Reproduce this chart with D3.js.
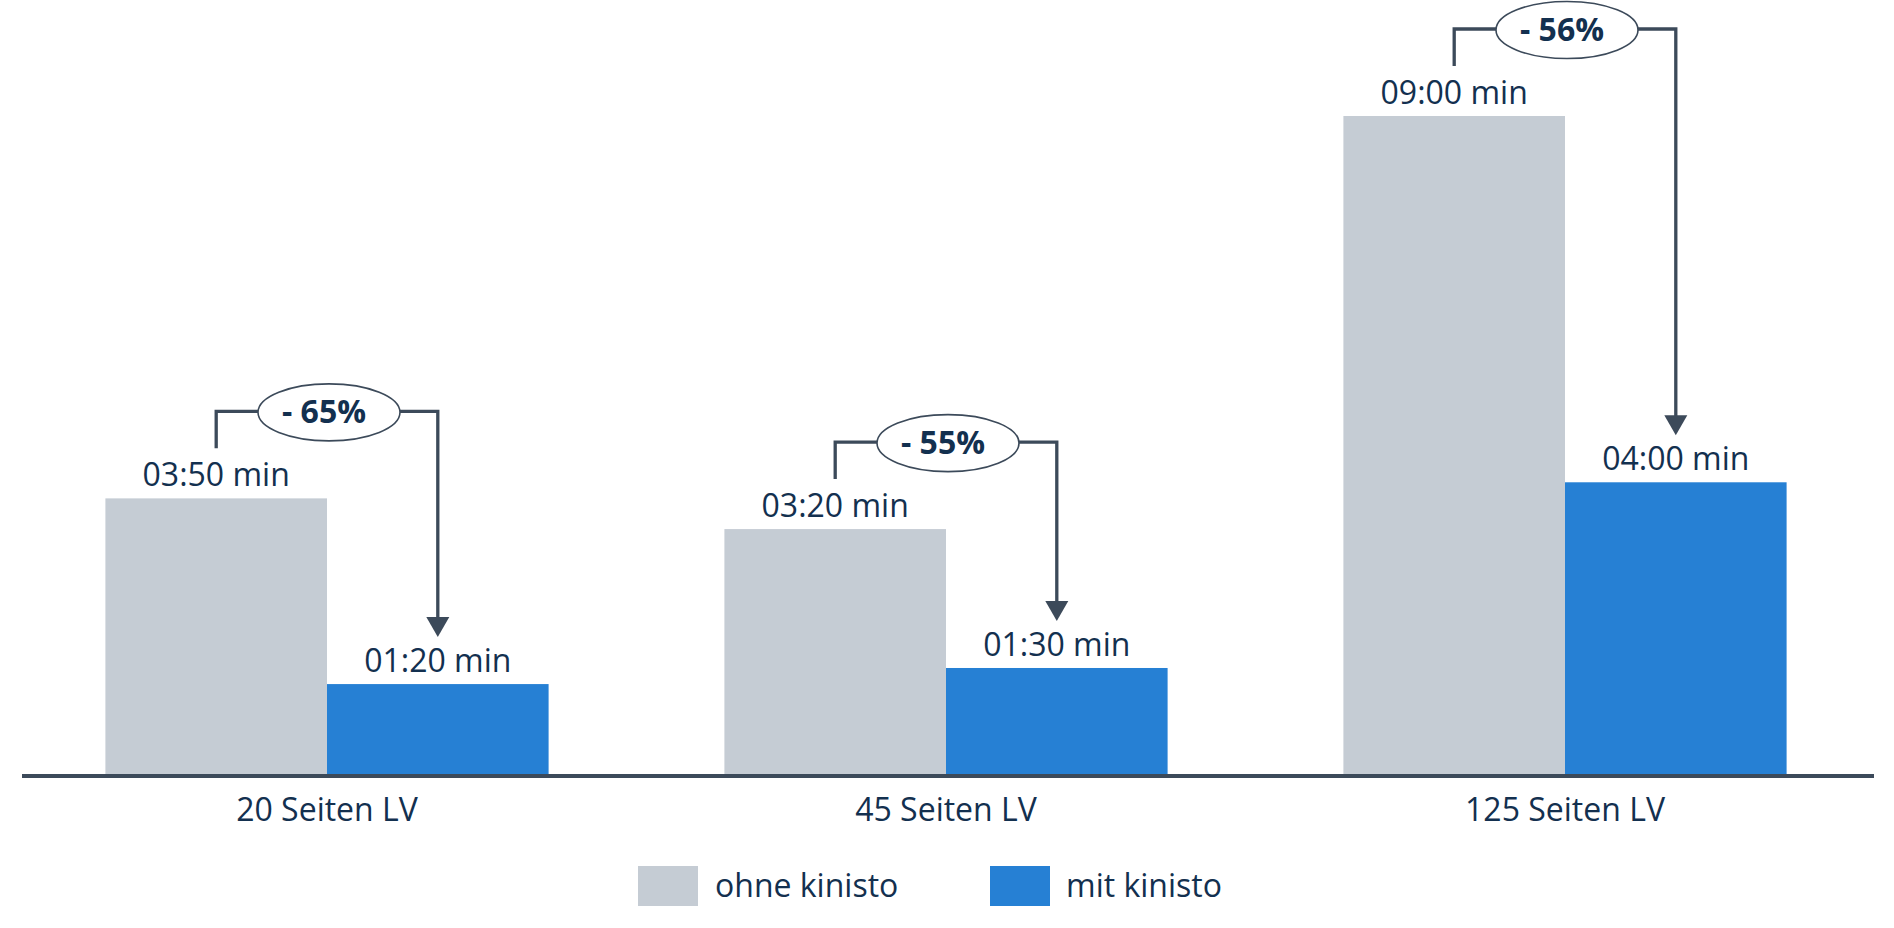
<!DOCTYPE html>
<html>
<head>
<meta charset="utf-8">
<script src="https://cdn.jsdelivr.net/npm/d3@7"></script>
<style>
  html, body { margin: 0; padding: 0; background: #ffffff; }
  svg { display: block; }
  text { font-family: "Open Sans", "Noto Sans", sans-serif; }
</style>
</head>
<body>
<svg id="chart" width="1894" height="928"></svg>
<script>
// ---- data ----
const categories = ["20 Seiten LV", "45 Seiten LV", "125 Seiten LV"];
const seriesNames = ["ohne kinisto", "mit kinisto"];
// minutes
const ohneValues = [3.77, 3.35, 9.0];
const mitValues = [1.23, 1.45, 3.99];
const ohneLabels = ["03:50 min", "03:20 min", "09:00 min"];
const mitLabels = ["01:20 min", "01:30 min", "04:00 min"];
const reductionLabels = ["- 65%", "- 55%", "- 56%"];

// ---- styles ----
const colors = { "ohne kinisto": "#c5ccd4", "mit kinisto": "#2680d4" };
const textColor = "#13304f";
const lineColor = "#3c4a5a";

const svg = d3.select("#chart");
const baseY = 774;

const x0 = d3.scaleBand()
  .domain(categories)
  .range([17.5, 1874.5])
  .paddingInner(0.284)
  .paddingOuter(0.142);

const x1 = d3.scaleBand()
  .domain(seriesNames)
  .range([0, x0.bandwidth()])
  .padding(0);

const y = d3.scaleLinear()
  .domain([0, 9])
  .range([baseY, 116]);

const rows = categories.map((c, i) => ({
  cat: c,
  bars: [
    { key: "ohne kinisto", value: ohneValues[i], label: ohneLabels[i] },
    { key: "mit kinisto", value: mitValues[i], label: mitLabels[i] }
  ],
  reduction: reductionLabels[i]
}));

// ---- bars ----
const groups = svg.append("g").selectAll("g.grp")
  .data(rows).join("g")
  .attr("class", "grp")
  .attr("transform", d => `translate(${x0(d.cat)},0)`);

groups.selectAll("rect")
  .data(d => d.bars).join("rect")
  .attr("x", d => x1(d.key))
  .attr("y", d => y(d.value))
  .attr("width", x1.bandwidth())
  .attr("height", d => baseY - y(d.value))
  .attr("fill", d => colors[d.key]);

groups.selectAll("text.val")
  .data(d => d.bars).join("text")
  .attr("class", "val")
  .attr("x", d => x1(d.key) + x1.bandwidth() / 2)
  .attr("y", d => y(d.value) - 12)
  .attr("text-anchor", "middle")
  .attr("font-size", 32)
  .attr("fill", textColor)
  .text(d => d.label);

// ---- brackets with arrows ----
rows.forEach(d => {
  const g = svg.append("g");
  const xa = x0(d.cat) + x1("ohne kinisto") + x1.bandwidth() / 2;
  const xb = x0(d.cat) + x1("mit kinisto") + x1.bandwidth() / 2;
  const topOhne = y(d.bars[0].value);
  const topMit = y(d.bars[1].value);
  const hy = topOhne - 87;
  const startY = topOhne - 50;
  const tipY = topMit - 47;
  const headH = 20, headW = 11.5;

  g.append("path")
    .attr("d", `M${xa},${startY}V${hy}H${xb}V${tipY - headH + 1}`)
    .attr("fill", "none")
    .attr("stroke", lineColor)
    .attr("stroke-width", 3.3);

  g.append("path")
    .attr("d", `M${xb - headW},${tipY - headH}L${xb + headW},${tipY - headH}L${xb},${tipY}Z`)
    .attr("fill", lineColor);

  const cx = (xa + xb) / 2 + 2;
  g.append("ellipse")
    .attr("cx", cx)
    .attr("cy", hy + 1)
    .attr("rx", 71)
    .attr("ry", 28.5)
    .attr("fill", "#ffffff")
    .attr("stroke", lineColor)
    .attr("stroke-width", 1.6);

  g.append("text")
    .attr("x", cx - 5)
    .attr("y", hy + 12)
    .attr("text-anchor", "middle")
    .attr("font-size", 32)
    .attr("font-weight", 700)
    .attr("fill", textColor)
    .text(d.reduction);
});

// ---- axis ----
const axis = svg.append("g")
  .attr("transform", `translate(0,${baseY + 2})`)
  .call(d3.axisBottom(x0).tickSize(0).tickSizeOuter(0));

axis.select(".domain")
  .attr("stroke", lineColor)
  .attr("stroke-width", 4)
  .attr("d", "M22,0H1874");

axis.selectAll(".tick text")
  .attr("y", 45)
  .attr("dy", 0)
  .attr("font-size", 32)
  .attr("font-family", "\"Open Sans\", \"Noto Sans\", sans-serif")
  .attr("fill", textColor);

// ---- legend ----
const legendItems = [
  { key: seriesNames[0], x: 638, tx: 715 },
  { key: seriesNames[1], x: 990, tx: 1066 }
];
const legend = svg.append("g").selectAll("g")
  .data(legendItems).join("g");
legend.append("rect")
  .attr("x", d => d.x)
  .attr("y", 866)
  .attr("width", 60)
  .attr("height", 40)
  .attr("fill", d => colors[d.key]);
legend.append("text")
  .attr("x", d => d.tx)
  .attr("y", 897)
  .attr("font-size", 32)
  .attr("fill", textColor)
  .text(d => d.key);
</script>
</body>
</html>
